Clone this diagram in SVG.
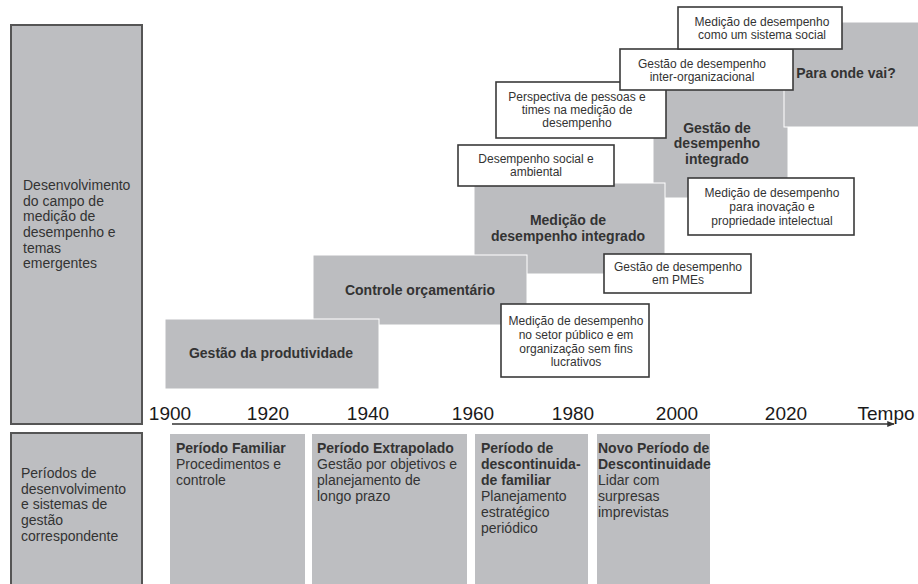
<svg xmlns="http://www.w3.org/2000/svg" width="918" height="584" viewBox="0 0 918 584">
<defs>
<style>
text{font-family:"Liberation Sans",Arial,sans-serif;fill:#333}
.side{fill:#bdbec1;stroke:#555;stroke-width:2}
.blk{fill:#bcbdc0;stroke:#fff;stroke-width:1}
.per{fill:#bdbec1}
.note{fill:#fff;stroke:#3a3a3a;stroke-width:1.6}
.b{font-weight:bold;font-size:14px}
.r{font-size:14px}
.n{font-size:12px;text-anchor:middle}
.bc{font-weight:bold;font-size:14px;text-anchor:middle}
.yr{font-size:19px;fill:#1a1a1a;text-anchor:middle}
</style>
<marker id="arr" viewBox="0 0 10 10" refX="9" refY="5" markerWidth="5" markerHeight="5" orient="auto"><path d="M0,1 L10,5 L0,9 z" fill="#333"/></marker>
</defs>
<rect width="918" height="584" fill="#fff"/>

<g id="side-top">
<rect class="side" x="11" y="25" width="131" height="399"/>
<text class="r" x="23" y="190">Desenvolvimento</text>
<text class="r" x="23" y="206">do campo de</text>
<text class="r" x="23" y="221">medição de</text>
<text class="r" x="23" y="237">desempenho e</text>
<text class="r" x="23" y="253">temas</text>
<text class="r" x="23" y="268">emergentes</text>
</g>
<g id="side-bottom">
<rect class="side" x="11" y="433" width="131" height="170"/>
<text class="r" x="21" y="478">Períodos de</text>
<text class="r" x="21" y="494">desenvolvimento</text>
<text class="r" x="21" y="509">e sistemas de</text>
<text class="r" x="21" y="525">gestão</text>
<text class="r" x="21" y="541">correspondente</text>
</g>

<g id="gestao-integrado">
<rect class="blk" x="653" y="85" width="135" height="113"/>
<text class="bc" x="717" y="133">Gestão de</text>
<text class="bc" x="717" y="148">desempenho</text>
<text class="bc" x="717" y="164">integrado</text>
</g>
<g id="para-onde">
<rect class="blk" x="784" y="22" width="140" height="105"/>
<text class="bc" x="846" y="78">Para onde vai?</text>
</g>
<g id="medicao-integrado">
<rect class="blk" x="474" y="183" width="191" height="91"/>
<text class="bc" x="568" y="225">Medição de</text>
<text class="bc" x="568" y="241">desempenho integrado</text>
</g>
<g id="controle">
<rect class="blk" x="313" y="255" width="214" height="70"/>
<text class="bc" x="420" y="295">Controle orçamentário</text>
</g>
<g id="produtividade">
<rect class="blk" x="165" y="319" width="214" height="70"/>
<text class="bc" x="271" y="358">Gestão da produtividade</text>
</g>

<g id="perspectiva">
<rect class="note" x="496" y="82" width="170" height="56"/>
<text class="n" x="577" y="101">Perspectiva de pessoas e</text>
<text class="n" x="577" y="114">times na medição de</text>
<text class="n" x="577" y="127">desempenho</text>
</g>
<g id="inter-org">
<rect class="note" x="620" y="49" width="173" height="41"/>
<text class="n" x="702" y="68">Gestão de desempenho</text>
<text class="n" x="702" y="81">inter-organizacional</text>
</g>
<g id="sistema-social">
<rect class="note" x="678" y="7" width="164" height="42"/>
<text class="n" x="762" y="26">Medição de desempenho</text>
<text class="n" x="762" y="39">como um sistema social</text>
</g>
<g id="social-ambiental">
<rect class="note" x="458" y="145" width="156" height="41"/>
<text class="n" x="536" y="163">Desempenho social e</text>
<text class="n" x="536" y="176">ambiental</text>
</g>
<g id="inovacao">
<rect class="note" x="688" y="178" width="166" height="57"/>
<text class="n" x="772" y="197">Medição de desempenho</text>
<text class="n" x="772" y="211">para inovação e</text>
<text class="n" x="772" y="225">propriedade intelectual</text>
</g>
<g id="pmes">
<rect class="note" x="604" y="254" width="147" height="39"/>
<text class="n" x="678" y="271">Gestão de desempenho</text>
<text class="n" x="678" y="284">em PMEs</text>
</g>
<g id="setor-publico">
<rect class="note" x="501" y="304" width="148" height="73"/>
<text class="n" x="576" y="325">Medição de desempenho</text>
<text class="n" x="576" y="339">no setor público e em</text>
<text class="n" x="576" y="353">organização sem fins</text>
<text class="n" x="576" y="366">lucrativos</text>
</g>

<g id="connectors">
<line x1="172" y1="424" x2="894" y2="424" stroke="#333" stroke-width="1.5" marker-end="url(#arr)"/>
</g>
<g id="axis-labels">
<text class="yr" x="170" y="420">1900</text>
<text class="yr" x="268" y="420">1920</text>
<text class="yr" x="368" y="420">1940</text>
<text class="yr" x="473" y="420">1960</text>
<text class="yr" x="573" y="420">1980</text>
<text class="yr" x="677" y="420">2000</text>
<text class="yr" x="786" y="420">2020</text>
<text class="yr" x="886" y="420">Tempo</text>
</g>

<g id="periodo-familiar">
<rect class="per" x="170" y="434" width="135" height="160"/>
<text class="b" x="176" y="453">Período Familiar</text>
<text class="r" x="176" y="469">Procedimentos e</text>
<text class="r" x="176" y="485">controle</text>
</g>
<g id="periodo-extrapolado">
<rect class="per" x="312" y="434" width="155" height="160"/>
<text class="b" x="317" y="453">Período Extrapolado</text>
<text class="r" x="317" y="469">Gestão por objetivos e</text>
<text class="r" x="317" y="485">planejamento de</text>
<text class="r" x="317" y="501">longo prazo</text>
</g>
<g id="periodo-descontinuidade">
<rect class="per" x="475" y="434" width="113" height="160"/>
<text class="b" x="481" y="453">Período de</text>
<text class="b" x="481" y="469">descontinuida-</text>
<text class="b" x="481" y="485">de familiar</text>
<text class="r" x="481" y="501">Planejamento</text>
<text class="r" x="481" y="517">estratégico</text>
<text class="r" x="481" y="533">periódico</text>
</g>
<g id="novo-periodo">
<rect class="per" x="597" y="434" width="113" height="160"/>
<text class="b" x="598" y="453">Novo Período de</text>
<text class="b" x="598" y="469">Descontinuidade</text>
<text class="r" x="598" y="485">Lidar com</text>
<text class="r" x="598" y="501">surpresas</text>
<text class="r" x="598" y="517">imprevistas</text>
</g>
</svg>
